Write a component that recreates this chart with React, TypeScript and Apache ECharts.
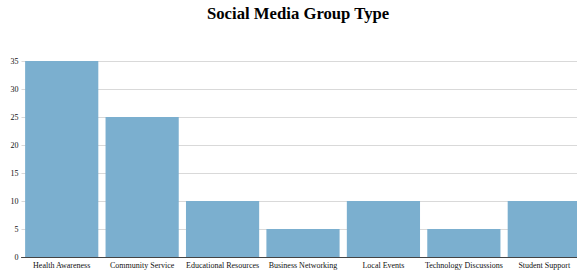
import React, { useEffect, useRef } from "react";
import * as echarts from "echarts";

const categories = [
  "Health Awareness",
  "Community Service",
  "Educational Resources",
  "Business Networking",
  "Local Events",
  "Technology Discussions",
  "Student Support",
];
const counts = [35, 25, 10, 5, 10, 5, 10];
const yTicks = { min: 0, max: 35, interval: 5 };

export default function App() {
  const ref = useRef<HTMLDivElement>(null);
  useEffect(() => {
    document.body.style.margin = "0";
    const chart = echarts.init(ref.current!, null, { renderer: "svg" });
    chart.setOption({
      animation: false,
      title: {
        text: "Social Media Group Type",
        left: 202,
        top: 0,
        textStyle: {
          fontFamily: "Liberation Serif",
          fontWeight: "bold",
          fontSize: 16.7,
          color: "#000",
        },
      },
      grid: {
        left: 21.5,
        top: 61,
        width: 563,
        bottom: 18,
        containLabel: false,
        outerBoundsMode: "none",
      },
      xAxis: {
        type: "category",
        data: categories,
        axisTick: { show: false },
        axisLine: { lineStyle: { color: "#444", width: 1 } },
        axisLabel: {
          fontFamily: "Liberation Serif",
          fontSize: 8,
          color: "#111",
          margin: 4,
          interval: 0,
        },
      },
      yAxis: {
        type: "value",
        min: yTicks.min,
        max: yTicks.max,
        interval: yTicks.interval,
        axisLine: { show: false },
        axisTick: { show: false },
        splitLine: { lineStyle: { color: "#d9d9d9", width: 1 } },
        axisLabel: {
          fontFamily: "Liberation Serif",
          fontSize: 8,
          color: "#111",
          margin: 3,
        },
      },
      series: [
        {
          type: "bar",
          data: counts,
          barCategoryGap: "9%",
          itemStyle: { color: "#7bafcf" },
        },
      ],
    });
    return () => chart.dispose();
  }, []);
  return <div ref={ref} style={{ width: 577, height: 275 }} />;
}
